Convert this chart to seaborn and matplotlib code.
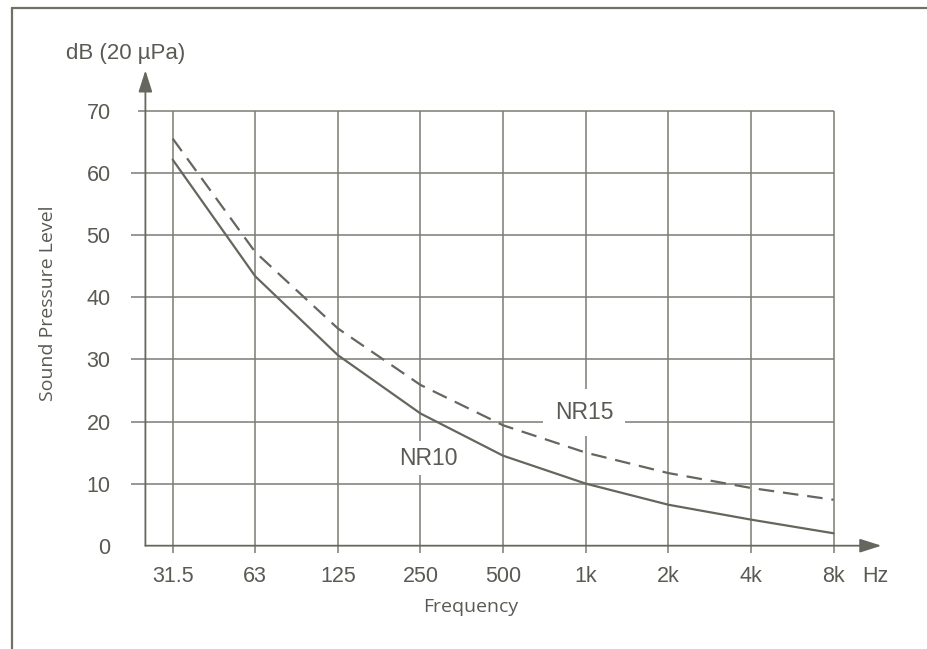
import matplotlib
matplotlib.use("Agg")
import matplotlib.pyplot as plt
from matplotlib.lines import Line2D
import seaborn as sns
import pandas as pd

# ---- data ----
frequencies = ["31.5", "63", "125", "250", "500", "1k", "2k", "4k", "8k"]
nr10 = [62.2, 43.4, 30.7, 21.3, 14.5, 10.0, 6.6, 4.2, 2.0]
nr15 = [65.6, 47.3, 35.0, 25.9, 19.4, 15.0, 11.7, 9.3, 7.4]
y_ticks = [0, 10, 20, 30, 40, 50, 60, 70]

sns.set_theme(style="white")
FONT = ["Liberation Sans", "DejaVu Sans"]
plt.rcParams["font.family"] = FONT

LINE = "#66665f"
GRID = "#7c7c75"
TEXT = "#5a5a54"

pos = list(range(len(frequencies)))
df = pd.DataFrame({
    "pos": pos * 2,
    "spl": nr10 + nr15,
    "curve": ["NR10"] * len(pos) + ["NR15"] * len(pos),
})

fig = plt.figure(figsize=(9.28, 6.49), dpi=100)
ax = fig.add_axes([0.13265, 0.14006, 0.83233, 0.75547])
ax.set_xlim(-0.6, 8.75)
ax.set_ylim(-2, 77)
for s in ax.spines.values():
    s.set_visible(False)

# grid (drawn as lines, extending slightly past the axes as in the reference)
for y in y_ticks[1:]:
    ax.hlines(y, -0.42 if y == 70 else -0.5, 8, color=GRID, lw=1.1, zorder=1)
ax.vlines(pos, -1.2, 70, color=GRID, lw=1.1, zorder=1)

# axes with arrows
ax.annotate("", xy=(-0.33, 76.6), xytext=(-0.33, 0),
            arrowprops=dict(arrowstyle="-|>,head_length=1.1,head_width=0.35",
                            color=LINE, lw=1.3, shrinkA=0, shrinkB=0), zorder=3)
ax.annotate("", xy=(8.58, 0), xytext=(-0.33, 0),
            arrowprops=dict(arrowstyle="-|>,head_length=1.1,head_width=0.35",
                            color=LINE, lw=1.3, shrinkA=0, shrinkB=0), zorder=3)

sns.lineplot(data=df, x="pos", y="spl", style="curve",
             dashes={"NR10": "", "NR15": (7, 4)},
             color=LINE, linewidth=1.6, legend=False, ax=ax, zorder=4)

ax.set_xticks(pos, frequencies)
ax.set_yticks(y_ticks, [str(v) for v in y_ticks])
ax.tick_params(axis="both", length=0, labelsize=15.5, colors=TEXT)
ax.tick_params(axis="x", pad=6)
ax.tick_params(axis="y", pad=9)

ax.text(8.51, -4.9, "Hz", ha="center", va="center", fontsize=15.5, color=TEXT)

ax.set_xlabel("Frequency", fontsize=14, color=TEXT, va="center",
              family=["Open Sans", "DejaVu Sans"])
ax.xaxis.set_label_coords(0.4504, -0.0997)
ax.set_ylabel("Sound Pressure Level", fontsize=14, color=TEXT, va="center",
              family=["Open Sans", "DejaVu Sans"])
ax.yaxis.set_label_coords(-0.0972, 0.5203)

ax.text(4.98, 21.5, "NR15", ha="center", va="center", fontsize=16.5,
        color=TEXT, bbox=dict(facecolor="white", edgecolor="none", pad=8.5), zorder=5)
ax.text(3.10, 14.1, "NR10", ha="center", va="center", fontsize=16.5,
        color=TEXT, bbox=dict(facecolor="white", edgecolor="none", pad=4), zorder=5)

fig.text(125.5 / 928, 1 - 53 / 649, "dB (20 \u00b5Pa)", ha="center", va="center",
         fontsize=16, color=TEXT)

# frame lines (top and left) of the original figure box
fig.add_artist(Line2D([12 / 928, 1], [1 - 8 / 649, 1 - 8 / 649],
                      color="#707068", lw=1.6, transform=fig.transFigure))
fig.add_artist(Line2D([12 / 928, 12 / 928], [0, 1 - 8 / 649],
                      color="#707068", lw=1.6, transform=fig.transFigure))

fig.savefig("out.png", dpi=100)
